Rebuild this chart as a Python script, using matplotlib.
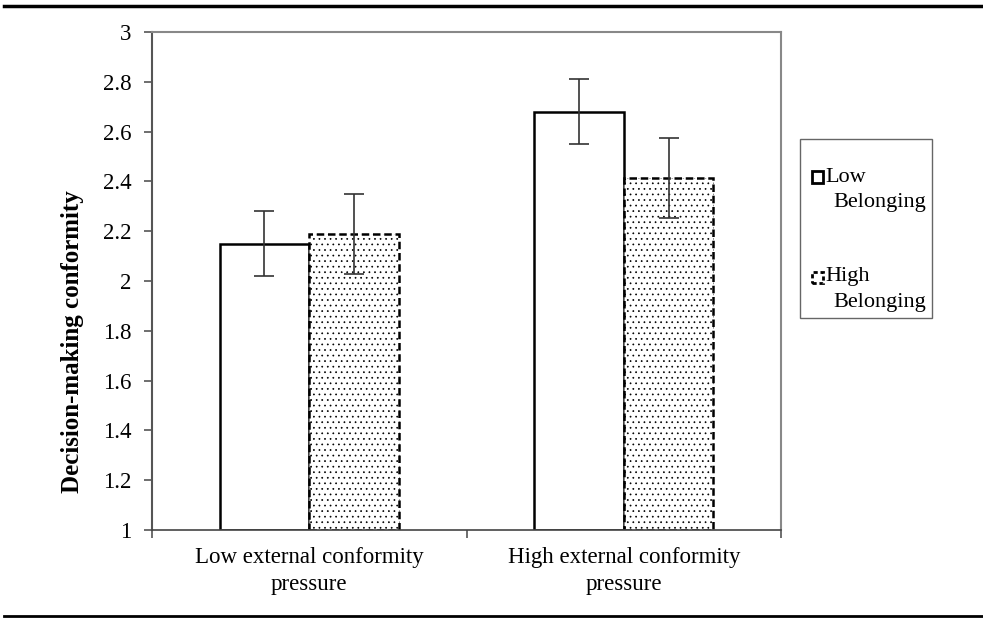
import matplotlib.pyplot as plt
from matplotlib.patches import Rectangle
import numpy as np

plt.rcParams['font.family'] = ['Liberation Serif', 'DejaVu Serif']
plt.rcParams['hatch.linewidth'] = 0.5

categories = ["Low external conformity\npressure", "High external conformity\npressure"]
series_names = ["Low Belonging", "High Belonging"]
low_belonging = [2.15, 2.68]
high_belonging = [2.19, 2.415]
low_err = [0.13, 0.13]
high_err = [0.16, 0.16]
y_ticks = [1, 1.2, 1.4, 1.6, 1.8, 2, 2.2, 2.4, 2.6, 2.8, 3]
y_tick_labels = ["1", "1.2", "1.4", "1.6", "1.8", "2", "2.2", "2.4", "2.6", "2.8", "3"]

W, H = 983, 619
fig = plt.figure(figsize=(W / 100, H / 100), dpi=100)
ax = fig.add_axes([152 / W, 89 / H, 629 / W, 498 / H])

x = np.arange(len(categories))
w = 0.285

b1 = ax.bar(x - w / 2, np.array(low_belonging) - 1, w, bottom=1, color="white",
            edgecolor="black", linewidth=1.8, zorder=2)
b2 = ax.bar(x + w / 2, np.array(high_belonging) - 1, w, bottom=1, color="white",
            edgecolor="black", linewidth=1.8, linestyle=(0, (3, 1.5)), hatch="...",
            zorder=2)
ax.errorbar(x - w / 2, low_belonging, yerr=low_err, fmt="none", ecolor="#333333",
            elinewidth=1.2, capsize=7, capthick=1.2, zorder=3)
ax.errorbar(x + w / 2, high_belonging, yerr=high_err, fmt="none", ecolor="#333333",
            elinewidth=1.2, capsize=7, capthick=1.2, zorder=3)

ax.set_xlim(-0.5, 1.5)
ax.set_ylim(1, 3)
ax.set_yticks(y_ticks)
ax.set_yticklabels(y_tick_labels, fontsize=16.5)
ax.set_xticks([-0.5, 0.5, 1.5])
ax.set_xticklabels([])
ax.set_xticks(x, minor=True)
ax.set_xticklabels(categories, minor=True, fontsize=16.5, linespacing=1.4)
ax.tick_params(axis="x", which="minor", length=0, pad=12)
ax.tick_params(axis="both", which="major", direction="out", length=6, width=1.2, color="#555555")
ax.tick_params(axis="y", pad=9)

for side in ["top", "right"]:
    ax.spines[side].set_color("#888888")
    ax.spines[side].set_linewidth(1.5)
ax.spines["left"].set_color("#555555")
ax.spines["left"].set_linewidth(1.5)
ax.spines["bottom"].set_color("#444444")
ax.spines["bottom"].set_linewidth(1.2)

fig.text(73 / W, 1 - 342 / H, "Decision-making conformity", rotation=90,
         ha="center", va="center", fontsize=18, fontweight="bold")

# legend drawn by hand so the key sits on the first line of each label
fig.add_artist(Rectangle((800 / W, 1 - 318 / H), 132 / W, 179 / H, transform=fig.transFigure,
                         facecolor="white", edgecolor="#666666", linewidth=1.0))
key_y = [177, 277]
styles = ["solid", (0, (1.5, 1))]
for name, ky, ls in zip(series_names, key_y, styles):
    first, second = name.split(" ")
    fig.add_artist(Rectangle((812 / W, 1 - (ky + 5.5) / H), 11 / W, 11 / H,
                             transform=fig.transFigure, facecolor="white",
                             edgecolor="black", linewidth=2, linestyle=ls))
    fig.text(825 / W, 1 - ky / H, first, ha="left", va="center", fontsize=16)
    fig.text(833 / W, 1 - (ky + 25) / H, second, ha="left", va="center", fontsize=16)

fig.add_artist(plt.Line2D([4 / W, 1], [1 - 6 / H] * 2, color="black", linewidth=2.5))
fig.add_artist(plt.Line2D([4 / W, 1], [1 - 616 / H] * 2, color="black", linewidth=2))

fig.savefig("out.png", dpi=100)
